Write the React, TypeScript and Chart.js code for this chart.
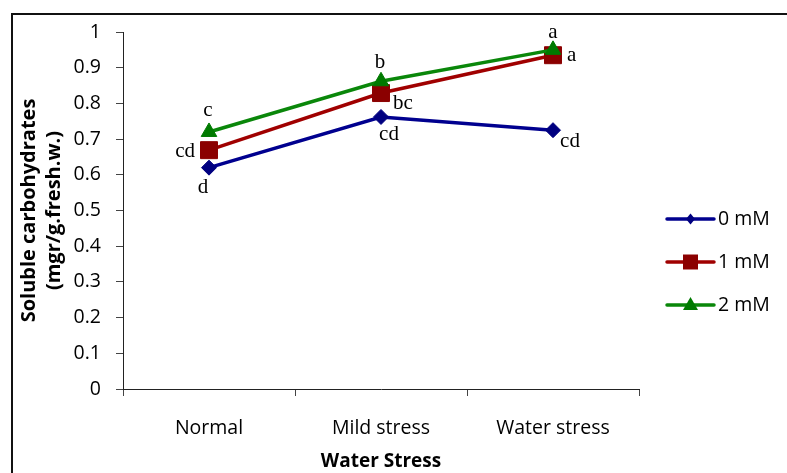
import React, { useEffect, useRef } from 'react';
import { Chart, registerables } from 'chart.js';

Chart.register(...registerables);

const categories = ['Normal', 'Mild stress', 'Water stress'];
const seriesNames = ['0 mM', '1 mM', '2 mM'];
const values0mM = [0.62, 0.762, 0.725];
const values1mM = [0.669, 0.829, 0.935];
const values2mM = [0.72, 0.862, 0.95];
const letters0mM = ['d', 'cd', 'cd'];
const letters1mM = ['cd', 'bc', 'a'];
const letters2mM = ['c', 'b', 'a'];
const yTickLabels = ['0', '0.1', '0.2', '0.3', '0.4', '0.5', '0.6', '0.7', '0.8', '0.9', '1'];
const yTitle = ['Soluble carbohydrates', '(mgr/g.fresh.w.)'];
const xTitle = 'Water Stress';

// label placement styles (offsets from each point, in px)
const labelPlacement = [
  [
    { dx: -6, dy: 25, align: 'center' },
    { dx: 8, dy: 23, align: 'center' },
    { dx: 17, dy: 17, align: 'center' },
  ],
  [
    { dx: -14, dy: 7, align: 'right' },
    { dx: 12, dy: 16, align: 'left' },
    { dx: 14, dy: 6, align: 'left' },
  ],
  [
    { dx: -1, dy: -16, align: 'center' },
    { dx: -1, dy: -13, align: 'center' },
    { dx: 0, dy: -12, align: 'center' },
  ],
];

const lineColors = ['#00008F', '#A00000', '#0A870A'];
const markerColors = ['#000080', '#8B0000', '#007A00'];
const pointStyles = ['rectRot', 'rect', 'triangle'];
const pointRadii = [7.5, 12, 9];
const sansFont = '"Open Sans"';

function drawMarker(ctx: CanvasRenderingContext2D, style: string, x: number, y: number, color: string) {
  ctx.save();
  ctx.fillStyle = color;
  ctx.beginPath();
  if (style === 'rectRot') {
    ctx.moveTo(x, y - 5.5);
    ctx.lineTo(x + 4.5, y);
    ctx.lineTo(x, y + 5.5);
    ctx.lineTo(x - 4.5, y);
  } else if (style === 'rect') {
    ctx.rect(x - 7.5, y - 7.5, 15, 15);
  } else {
    ctx.moveTo(x, y - 8);
    ctx.lineTo(x + 7.5, y + 5);
    ctx.lineTo(x - 7.5, y + 5);
  }
  ctx.closePath();
  ctx.fill();
  ctx.restore();
}

const overlayPlugin = {
  id: 'overlay',
  beforeDraw(chart: any) {
    const ctx = chart.ctx as CanvasRenderingContext2D;
    ctx.save();
    ctx.strokeStyle = '#111';
    ctx.lineWidth = 2;
    ctx.beginPath();
    ctx.moveTo(12, chart.height);
    ctx.lineTo(12, 14);
    ctx.lineTo(chart.width, 14);
    ctx.stroke();
    ctx.restore();
  },
  afterDatasetsDraw(chart: any) {
    const ctx = chart.ctx as CanvasRenderingContext2D;
    const letterSets = [letters0mM, letters1mM, letters2mM];
    ctx.save();
    ctx.font = '21px "Liberation Serif"';
    ctx.fillStyle = '#000';
    ctx.textBaseline = 'alphabetic';
    letterSets.forEach((letters, di) => {
      const meta = chart.getDatasetMeta(di);
      meta.data.forEach((pt: any, i: number) => {
        const p = labelPlacement[di][i];
        ctx.textAlign = p.align as CanvasTextAlign;
        ctx.fillText(letters[i], pt.x + p.dx, pt.y + p.dy);
      });
    });
    ctx.restore();
  },
  afterDraw(chart: any) {
    const ctx = chart.ctx as CanvasRenderingContext2D;
    const x0 = 667;
    const x1 = 714;
    const ys = [219, 262, 305];
    ctx.save();
    seriesNames.forEach((name, i) => {
      const y = ys[i];
      ctx.strokeStyle = lineColors[i];
      ctx.lineWidth = 3.5;
      ctx.lineCap = 'round';
      ctx.beginPath();
      ctx.moveTo(x0, y);
      ctx.lineTo(x1, y);
      ctx.stroke();
      drawMarker(ctx, pointStyles[i], (x0 + x1) / 2, y, markerColors[i]);
      ctx.fillStyle = '#000';
      ctx.font = `19.5px ${sansFont}`;
      ctx.textAlign = 'left';
      ctx.textBaseline = 'middle';
      ctx.fillText(name, x1 + 4, y);
    });
    ctx.restore();
  },
};

export default function App() {
  const canvasRef = useRef<HTMLCanvasElement | null>(null);

  useEffect(() => {
    document.body.style.margin = '0';
    const canvas = canvasRef.current;
    if (!canvas) return;
    const seriesValues = [values0mM, values1mM, values2mM];
    const chart = new Chart(canvas, {
      type: 'line',
      data: {
        labels: categories,
        datasets: seriesValues.map((vals, i) => ({
          label: seriesNames[i],
          data: vals,
          borderColor: lineColors[i],
          backgroundColor: markerColors[i],
          pointBackgroundColor: markerColors[i],
          pointBorderColor: markerColors[i],
          pointBorderWidth: 1,
          borderWidth: 3.5,
          pointStyle: pointStyles[i] as any,
          pointRadius: pointRadii[i],
          pointHoverRadius: pointRadii[i],
          tension: 0,
          fill: false,
          order: 2 - i,
        })),
      },
      options: {
        animation: false,
        responsive: false,
        devicePixelRatio: 1,
        events: [],
        layout: { padding: { left: 12, top: 32, right: 148, bottom: 0 } },
        plugins: {
          legend: { display: false },
          tooltip: { enabled: false },
        },
        scales: {
          x: {
            type: 'category',
            offset: true,
            grid: {
              offset: true,
              drawOnChartArea: false,
              drawTicks: true,
              tickLength: 7,
              color: '#444',
            },
            border: { display: true, color: '#222', width: 1 },
            ticks: {
              color: '#000',
              padding: 21,
              maxRotation: 0,
              font: { family: sansFont, size: 19.5 },
            },
            title: {
              display: true,
              text: xTitle,
              color: '#000',
              font: { family: sansFont, size: 19, weight: 'bold' },
              padding: { top: 0, bottom: 0 },
            },
            afterFit(scale: any) {
              scale.height = 84;
            },
          },
          y: {
            type: 'linear',
            min: 0,
            max: 1,
            afterBuildTicks(scale: any) {
              scale.ticks = yTickLabels.map((t) => ({ value: Number(t) }));
            },
            grid: {
              drawOnChartArea: false,
              drawTicks: true,
              tickLength: 7,
              color: '#444',
            },
            border: { display: true, color: '#222', width: 1 },
            ticks: {
              color: '#000',
              padding: 15,
              font: { family: sansFont, size: 19.5 },
              callback: (_v: any, idx: number) => yTickLabels[idx],
            },
            title: {
              display: true,
              text: yTitle,
              color: '#000',
              font: { family: sansFont, size: 20, weight: 'bold', lineHeight: '25px' as any },
              padding: { top: 5, bottom: 0 },
            },
            afterFit(scale: any) {
              scale.width = 111;
            },
          },
        },
      },
      plugins: [overlayPlugin],
    });
    return () => chart.destroy();
  }, []);

  return (
    <div style={{ width: 787, height: 473 }}>
      <canvas ref={canvasRef} width={787} height={473} style={{ display: 'block' }} />
    </div>
  );
}
